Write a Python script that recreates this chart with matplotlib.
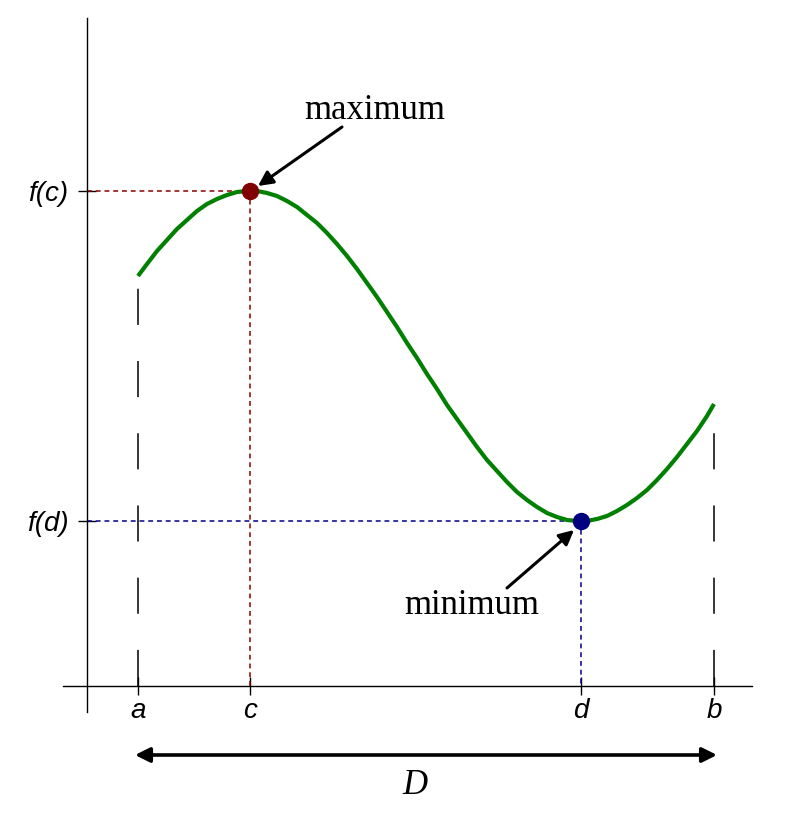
import numpy as np
import matplotlib
matplotlib.use("Agg")
import matplotlib.pyplot as plt

plt.rcParams['lines.scale_dashes'] = False

# curve (arbitrary units, 1 unit = 10 px)
curve_x = [5.1, 6, 7, 8, 9, 10, 11, 12, 13, 14, 15, 16, 17, 18, 19, 20, 21, 22,
           23, 24, 25, 26, 27, 28, 29, 30, 31, 32, 33, 34, 35, 36, 37, 38, 39,
           40, 41, 42, 43, 44, 45, 46, 47, 48, 49, 49.4, 50, 51, 52, 53, 54,
           55, 56, 57, 58, 59, 60, 61, 62, 62.7]
curve_y = [41.0, 42.2, 43.5, 44.6, 45.7, 46.6, 47.5, 48.2, 48.7, 49.1, 49.4,
           49.5, 49.5, 49.3, 49.0, 48.5, 47.9, 47.1, 46.3, 45.3, 44.2, 43.0,
           41.7, 40.3, 38.9, 37.4, 35.9, 34.3, 32.8, 31.2, 29.7, 28.1, 26.7,
           25.3, 23.9, 22.6, 21.5, 20.4, 19.4, 18.6, 17.9, 17.3, 16.9, 16.6,
           16.5, 16.5, 16.5, 16.7, 17.0, 17.5, 18.1, 18.8, 19.6, 20.6, 21.7,
           22.9, 24.2, 25.5, 27.0, 28.2]

a, c, d, b = 5.1, 16.3, 49.4, 62.7
f_a, f_c, f_d, f_b = 41.0, 49.5, 16.5, 28.2
x_ticks = [a, c, d, b]
x_labels = ['a', 'c', 'd', 'b']
y_ticks = [f_d, f_c]
y_labels = ['f(d)', 'f(c)']

fig = plt.figure(figsize=(7.92, 8.16), dpi=100)
ax = fig.add_axes([0, 0, 1, 1])
ax.set_xlim(-8.7, 70.5)
ax.set_ylim(-13.0, 68.6)

# axes through the origin
for side in ['top', 'right']:
    ax.spines[side].set_visible(False)
ax.spines['left'].set_position(('data', 0))
ax.spines['bottom'].set_position(('data', 0))
ax.spines['left'].set_bounds(-2.6, 66.8)
ax.spines['bottom'].set_bounds(-2.4, 66.5)
ax.spines['left'].set_linewidth(1.0)
ax.spines['bottom'].set_linewidth(1.0)

sans_it = dict(family='Liberation Sans', style='italic', size=20)
ax.set_xticks(x_ticks)
ax.set_xticklabels(x_labels, fontdict=sans_it)
ax.set_yticks(y_ticks)
ax.set_yticklabels(y_labels, fontdict=sans_it)
ax.tick_params(direction='inout', length=13, width=1.0)
ax.tick_params(axis='x', pad=2.5)
ax.tick_params(axis='y', pad=7)

# interval boundaries
ax.plot([a, a], [0, f_a], color='k', lw=1.1, dashes=(26, 26))
ax.plot([b, b], [0, f_b], color='k', lw=1.1, dashes=(26, 26))

# guide lines to the extrema
red, blue = '#8b0000', '#000088'
ax.plot([0, c], [f_c, f_c], color=red, lw=1.1, dashes=(3.5, 2.8))
ax.plot([c, c], [f_c, 0], color=red, lw=1.1, dashes=(3.5, 2.8))
ax.plot([0, d], [f_d, f_d], color=blue, lw=1.1, dashes=(3.5, 2.8))
ax.plot([d, d], [f_d, 0], color=blue, lw=1.1, dashes=(3.5, 2.8))

ax.plot(curve_x, curve_y, color='#008000', lw=3, solid_capstyle='butt',
        solid_joinstyle='round', zorder=3)
ax.plot([c], [f_c], 'o', color='#800000', ms=11.5, zorder=4)
ax.plot([d], [f_d], 'o', color='#000080', ms=11.5, zorder=4)

arrow = dict(arrowstyle='-|>', lw=2.2, color='k', mutation_scale=22,
             shrinkA=0, shrinkB=0)
ax.annotate('', xy=(17.1, 50.0), xytext=(25.5, 55.9), arrowprops=arrow)
ax.annotate('', xy=(48.7, 15.6), xytext=(42.0, 9.8), arrowprops=arrow)
ax.text(28.8, 57.5, 'maximum', family='Liberation Serif', size=25,
        ha='center', va='center')
ax.text(38.5, 8.1, 'minimum', family='Liberation Serif', size=25,
        ha='center', va='center')

ax.annotate('', xy=(4.8, -6.9), xytext=(63.0, -6.9),
            arrowprops=dict(arrowstyle='<|-|>', lw=2.6, color='k',
                            mutation_scale=22, shrinkA=0, shrinkB=0))
ax.text(32.8, -10.0, 'D', family='Liberation Serif', style='italic', size=25,
        ha='center', va='center')

fig.savefig('out.png', dpi=100)
